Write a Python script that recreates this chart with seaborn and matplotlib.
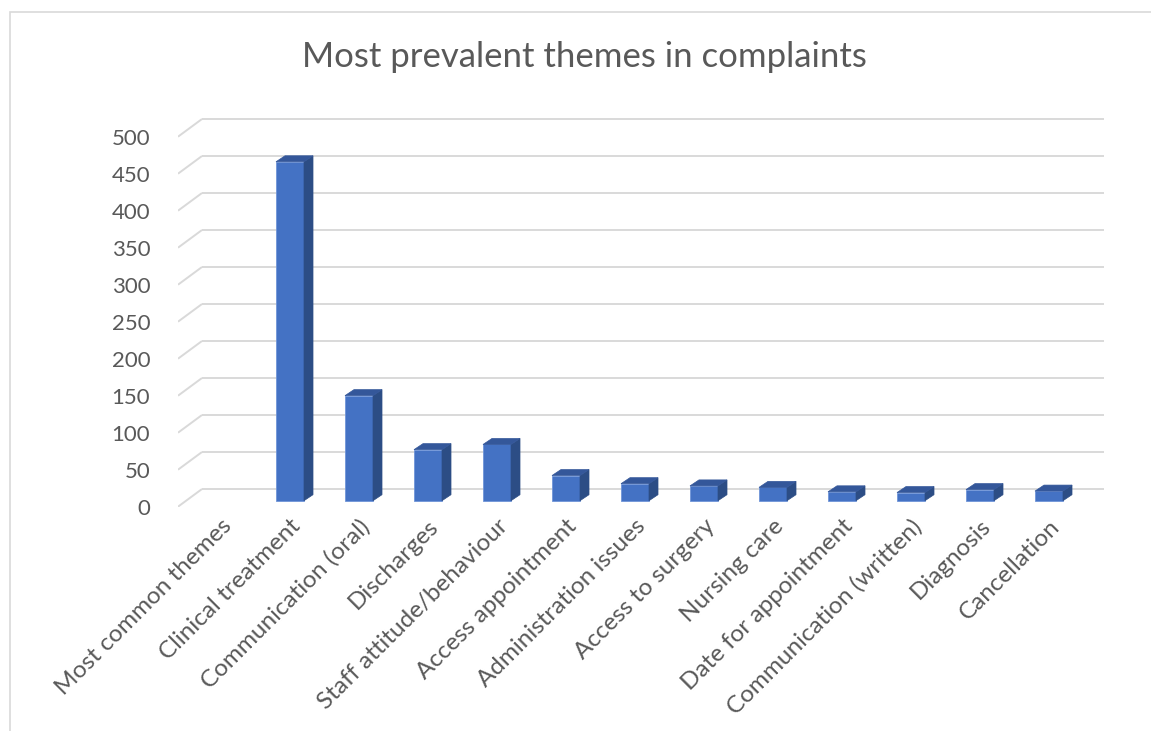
import matplotlib
matplotlib.use("Agg")
import matplotlib.pyplot as plt
import seaborn as sns
import numpy as np
import pandas as pd
from matplotlib.patches import Polygon, Rectangle
from matplotlib.lines import Line2D

categories = ["Most common themes", "Clinical treatment", "Communication (oral)",
              "Discharges", "Staff attitude/behaviour", "Access appointment",
              "Administration issues", "Access to surgery", "Nursing care",
              "Date for appointment", "Communication (written)", "Diagnosis",
              "Cancellation"]
values = [0, 458, 142, 69, 76, 34, 23, 20, 18, 12, 11, 15, 13]
yticks = [0, 50, 100, 150, 200, 250, 300, 350, 400, 450, 500]
title = "Most prevalent themes in complaints"

sns.set_theme(style="white")
plt.rcParams['font.family'] = ['Lato', 'DejaVu Sans']

W, H = 1151, 731
fig = plt.figure(figsize=(W / 100, H / 100), dpi=100)

# axes in pixel coordinates
px_left, px_right, px_top, px_bottom = 178, 1104, 118, 507
ax = fig.add_axes([px_left / W, 1 - px_bottom / H,
                   (px_right - px_left) / W, (px_bottom - px_top) / H])

df = pd.DataFrame({"theme": categories, "count": values})
sns.barplot(data=df, x="theme", y="count", color="#4472C4", saturation=1,
            width=0.406, ax=ax, edgecolor="#6F95D8", linewidth=0.6, zorder=3)

# scales: 69 px per category, 0.74 px per unit
xpx, ypx = 69.0, 0.74
x0_center = 221.0
base_px = 500.7
ax.set_xlim((px_left - x0_center) / xpx, (px_right - x0_center) / xpx)
ax.set_ylim(-(px_bottom - base_px) / ypx, (base_px - px_top) / ypx)

front_dy = -6.0 / ypx       # front plane below bar base
back_dy = 11.7 / ypx        # back wall above bar base
front_x = (px_left - x0_center) / xpx
back_x = front_x + 24.0 / xpx
grid_c = "#D9D9D9"

for v in yticks:
    ax.add_line(Line2D([front_x, back_x], [v + front_dy, v + back_dy],
                       color=grid_c, lw=1.4, zorder=1, solid_capstyle="butt"))
    ax.add_line(Line2D([back_x, ax.get_xlim()[1]], [v + back_dy, v + back_dy],
                       color=grid_c, lw=1.4, zorder=1, solid_capstyle="butt"))

# 3D side and top faces derived from the bars
ddx = 9.0 / xpx
ddy = 6.0 / ypx
for p in ax.patches:
    h = p.get_height()
    if not np.isfinite(h) or h <= 0:
        p.set_visible(False)
        continue
    x0 = p.get_x()
    x1 = x0 + p.get_width()
    side = Polygon([(x1, 0), (x1 + ddx, ddy), (x1 + ddx, h + ddy), (x1, h)],
                   closed=True, facecolor="#2C4D85", edgecolor="#2C4D85",
                   lw=0.5, zorder=3)
    top = Polygon([(x0, h), (x1, h), (x1 + ddx, h + ddy), (x0 + ddx, h + ddy)],
                  closed=True, facecolor="#34579A", edgecolor="#34579A",
                  lw=0.5, zorder=3)
    ax.add_patch(side)
    ax.add_patch(top)

for s in ax.spines.values():
    s.set_visible(False)
ax.set_xlabel("")
ax.set_ylabel("")
ax.tick_params(axis="both", length=0)

# y tick labels at the front plane
ax.set_yticks([v + front_dy for v in yticks])
ax.set_yticklabels([str(v) for v in yticks], fontsize=16, color="#595959")
ax.tick_params(axis="y", pad=20)

ax.set_xticks(range(len(categories)))
ax.set_xticklabels(categories, rotation=45, ha="right", va="top",
                   rotation_mode="anchor", fontsize=17.5, color="#595959")
ax.tick_params(axis="x", pad=6)

fig.text(584 / W, 1 - 57 / H, title, ha="center", va="center",
         fontsize=25, color="#595959")

# chart border
fig.patches.append(Rectangle((9.5 / W, -0.05), 1.2, 1 - 12.5 / H + 0.05,
                             transform=fig.transFigure, fill=False,
                             edgecolor="#D9D9D9", lw=1.2))

fig.savefig("out.png", dpi=100)
